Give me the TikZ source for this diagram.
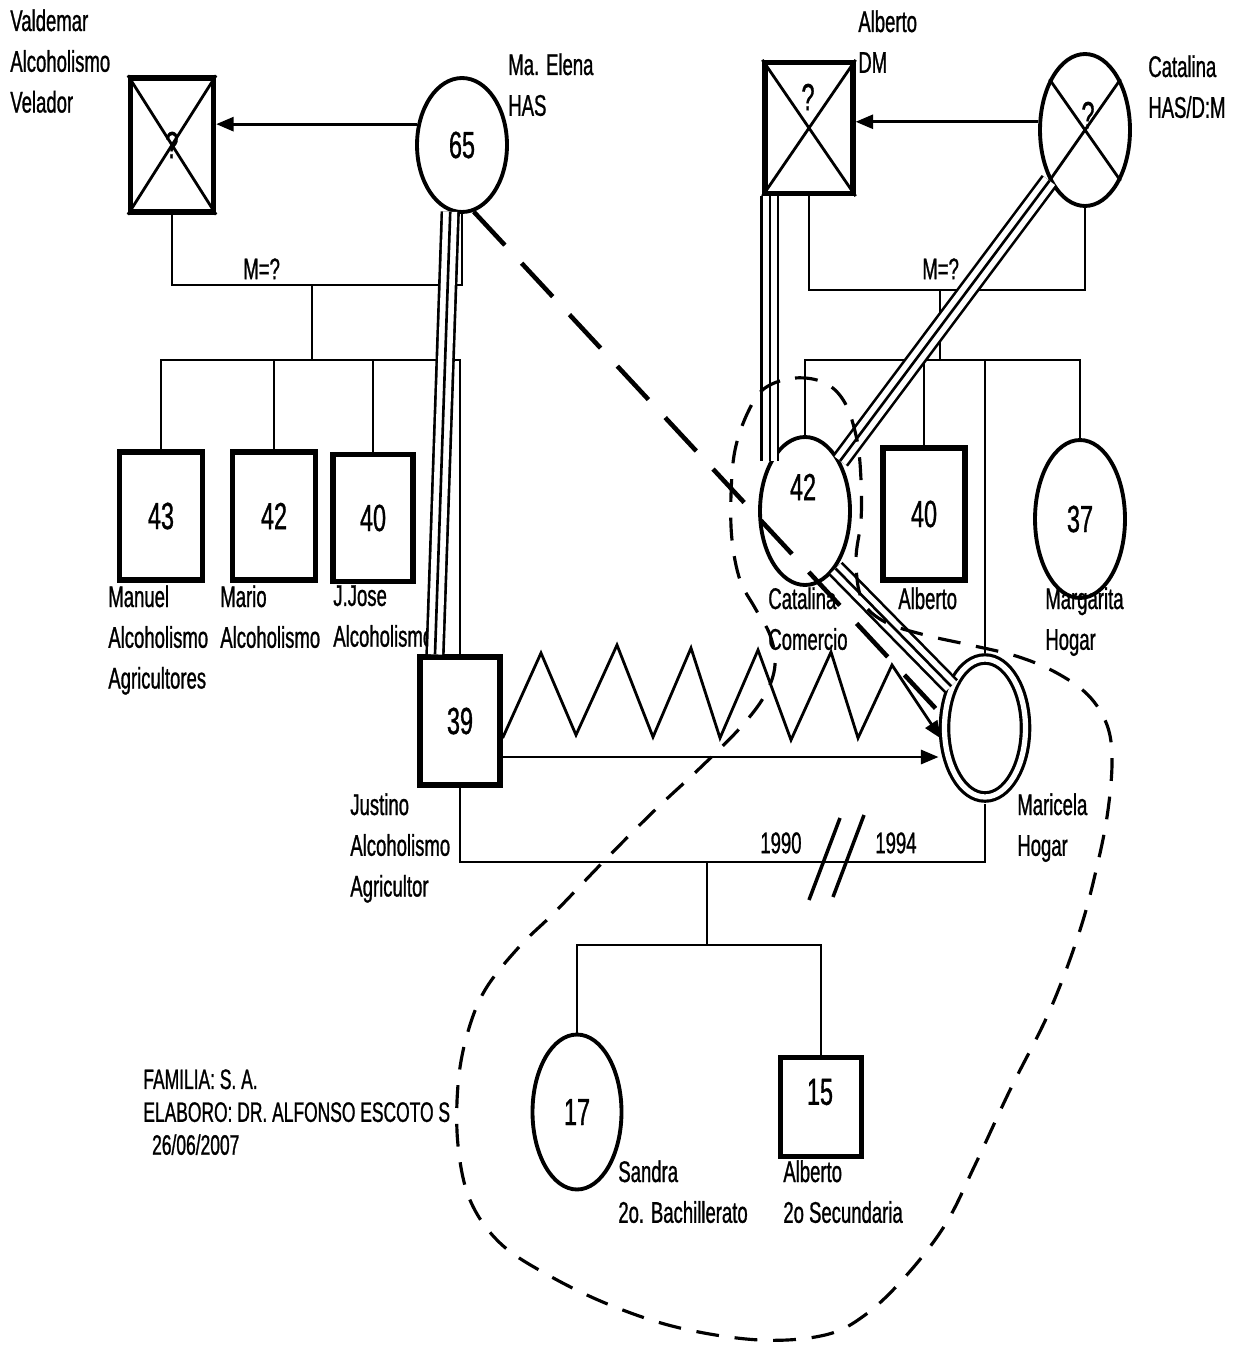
\documentclass[tikz,border=0pt]{standalone}
\usepackage{fontspec}
\setmainfont{Liberation Sans}[FakeStretch=0.62,FakeBold=0.9]
\usetikzlibrary{shapes.geometric,arrows.meta}
\begin{document}
\begin{tikzpicture}[x=0.02cm,y=-0.02cm,
  lbl/.style={anchor=north west, inner sep=0pt, align=left, font=\fontsize{17}{23.2}\selectfont},
  sml/.style={anchor=north west, inner sep=0pt, align=left, font=\fontsize{16}{18.7}\selectfont},
  num/.style={font=\fontsize{21.5}{24}\selectfont},
  male/.style={draw, line width=3pt, rectangle, inner sep=0pt, num},
  female/.style={draw, line width=2.2pt, ellipse, inner sep=0pt, num},
  conn/.style={line width=1.6pt},
  arr/.style={conn, -{Triangle[length=10pt,width=8pt]}},
  triple/.style={line width=1.5pt, preaction={draw, line width=1.5pt, double, double distance=8pt}},
  bigdash/.style={line width=2.6pt, dash pattern=on 26pt off 14pt},
  encl/.style={line width=1.8pt, dash pattern=on 13pt off 9pt},
]
\useasboundingbox[fill=white] (0,0) rectangle (1238,1345);

% ---------- nodes ----------
\node[male, minimum width=1.66cm, minimum height=2.68cm] (valdemar) at (172,145) {?};
\node[female, minimum width=1.8cm, minimum height=2.68cm] (maelena) at (462,145) {65};
\node[male, minimum width=1.76cm, minimum height=2.62cm] (albertoSr) at (809,128) {};
\node[num] (albq) at (808,97) {?};
\node[female, minimum width=1.8cm, minimum height=3.04cm] (catalinaSr) at (1085,130) {};
\node[num] (catq) at (1088,115) {?};

\node[male, minimum width=1.66cm, minimum height=2.56cm] (manuel) at (161,516) {43};
\node[male, minimum width=1.66cm, minimum height=2.56cm] (mario) at (274,516) {42};
\node[male, minimum width=1.6cm, minimum height=2.54cm] (jjose) at (373,518) {40};
\node[male, minimum width=1.6cm, minimum height=2.56cm] (justino) at (460,721) {39};

\node[female, minimum width=1.8cm, minimum height=2.96cm] (catalina42) at (805,511) {};
\node[num] (c42num) at (803,487) {42};
\node[male, minimum width=1.64cm, minimum height=2.64cm] (alberto40) at (924,514) {40};
\node[female, minimum width=1.8cm, minimum height=3.16cm] (margarita) at (1080,519) {37};
\node[draw, ellipse, double, line width=1.8pt, double distance=3pt, inner sep=0pt,
      minimum width=1.62cm, minimum height=2.76cm] (maricela) at (985,728) {};
\node[female, minimum width=1.78cm, minimum height=3.1cm] (sandra) at (577,1112) {17};
\node[male, minimum width=1.62cm, minimum height=1.98cm] (alberto15) at (821,1107) {};
\node[num] (a15num) at (820,1092) {15};

% crosses for deceased
\draw[conn] (valdemar.north west) -- (valdemar.south east) (valdemar.north east) -- (valdemar.south west);
\draw[conn] (albertoSr.north west) -- (albertoSr.south east) (albertoSr.north east) -- (albertoSr.south west);
\draw[conn] (catalinaSr.125) -- (catalinaSr.-55) (catalinaSr.55) -- (catalinaSr.-125);

% ---------- labels ----------
\node[lbl] (tValdemar) at (10,9) {Valdemar\\Alcoholismo\\Velador};
\node[lbl] (tMaElena) at (508,53) {Ma. Elena\\HAS};
\node[lbl] (tAlbertoSr) at (858,10) {Alberto\\DM};
\node[lbl] (tCatalinaSr) at (1148,55) {Catalina\\HAS/D:M};
\node[lbl] (tML) at (243,258) {M=?};
\node[lbl] (tMR) at (922,258) {M=?};
\node[lbl] (tManuel) at (108,585) {Manuel\\Alcoholismo\\Agricultores};
\node[lbl] (tMario) at (220,585) {Mario\\Alcoholismo};
\node[lbl] (tJJose) at (333,585) {J.Jose\\Alcoholismo};
\node[lbl] (tCatalina) at (768,587) {Catalina\\Comercio};
\node[lbl] (tAlberto40) at (898,587) {Alberto};
\node[lbl] (tMargarita) at (1045,587) {Margarita\\Hogar};
\node[lbl] (tJustino) at (350,793) {Justino\\Alcoholismo\\Agricultor};
\node[lbl] (t1990) at (760,832) {1990};
\node[lbl] (t1994) at (875,832) {1994};
\node[lbl] (tMaricela) at (1017,793) {Maricela\\Hogar};
\node[lbl] (tSandra) at (618,1160) {Sandra\\2o. Bachillerato};
\node[lbl] (tAlberto15) at (783,1160) {Alberto\\2o Secundaria};
\node[sml] (tFamilia) at (143,1069) {FAMILIA: S. A.\\ELABORO: DR. ALFONSO ESCOTO S\\\hspace*{5pt}26/06/2007};

% ---------- left family ----------
\draw[arr] (maelena.155) -- (maelena.155 -| valdemar.east);
\coordinate (mL) at (312,285);
\coordinate (sibL) at (312,360);
\draw[conn] (valdemar.south) |- (mL) -| (maelena.south);
\draw[conn] (mL) -- (sibL);
\draw[conn] (manuel.north) |- (sibL) -| (justino.north);
\draw[conn] (mario.north) -- (mario.north |- sibL);
\draw[conn] (jjose.north) -- (jjose.north |- sibL);
\draw[triple] (maelena.-100) -- ([xshift=-0.5cm]justino.north);

% ---------- right family ----------
\draw[arr] (catalinaSr.170) -- (catalinaSr.170 -| albertoSr.east);
\coordinate (mR) at (940,290);
\coordinate (sibR) at (940,360);
\draw[conn] (albertoSr.south) |- (mR) -| (catalinaSr.south);
\draw[conn] (mR) -- (sibR);
\draw[conn] (catalina42.north) |- (sibR) -| (margarita.north);
\draw[conn] (alberto40.north) -- (alberto40.north |- sibR);
\draw[conn, shorten >=2.5pt] (maricela.north |- sibR) -- (maricela.north);
\draw[triple] (catalina42.125 |- albertoSr.south) -- (catalina42.125);
\draw[triple] (catalinaSr.235) -- (catalina42.55);
\draw[triple] (catalina42.-62) -- (maricela.129);

% ---------- Justino - Maricela ----------
\draw[arr, shorten >=3pt] (justino.east |- 0,738) -- (541,653) -- (576,735) -- (617,645) -- (653,737)
   -- (691,648) -- (720,738) -- (758,650) -- (791,740) -- (831,652) -- (858,738) -- (892,665) -- (maricela.200);
\draw[arr, shorten >=2.5pt] (justino.east |- 0,757) -- (maricela.west |- 0,757);
\coordinate (mJ) at (707,862);
\coordinate (sibK) at (707,945);
\draw[conn, shorten >=3pt] (justino.south) |- (mJ) -| (maricela.south);
\draw[conn, line width=2pt] (809,900) -- (840,818) (833,897) -- (864,815);
\draw[conn] (mJ) -- (sibK);
\draw[conn] (sandra.north) |- (sibK) -| (alberto15.north);

% ---------- dashed relations ----------
\draw[bigdash, shorten >=4pt] (maelena.-80) -- (maricela.165);
\draw[encl] plot[smooth cycle, tension=0.6] coordinates {
 (765,388) (795,378) (825,383) (845,403) (857,440) (861,480) (861,520) (856,560) (862,600) (885,622)
 (925,635) (970,645) (1016,656) (1055,672) (1088,695) (1107,725) (1112,760) (1108,810) (1098,862)
 (1080,930) (1050,1010) (1010,1090) (975,1165) (945,1225) (905,1277) (865,1315) (825,1335) (760,1340)
 (680,1328) (610,1305) (548,1275) (500,1243) (470,1200) (458,1145) (458,1085) (467,1035) (485,990)
 (519,947) (555,912) (605,860) (655,810) (700,768) (740,728) (765,695) (775,665) (770,635) (755,608)
 (740,580) (732,540) (731,495) (735,450) (748,412)};
\end{tikzpicture}
\end{document}
